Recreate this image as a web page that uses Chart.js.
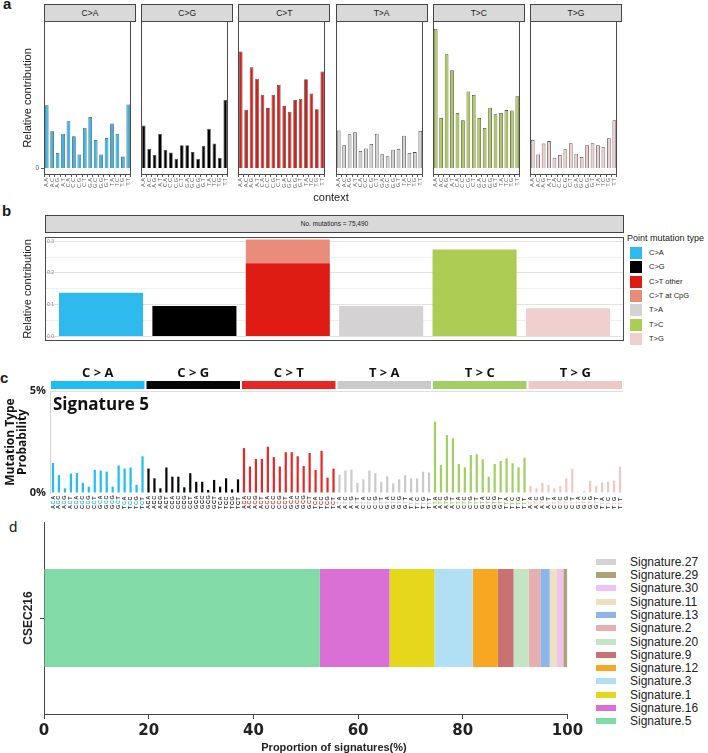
<!DOCTYPE html>
<html><head><meta charset="utf-8">
<script src="https://cdn.jsdelivr.net/npm/chart.js@4.4.1/dist/chart.umd.min.js"></script>
<style>
html,body{margin:0;padding:0;background:#fff;}
body{width:708px;height:753px;position:relative;overflow:hidden;font-family:'Liberation Sans',Arial,sans-serif;color:#1a1a1a;}
canvas{position:absolute;}
.t{position:absolute;white-space:nowrap;}
.strip{position:absolute;box-sizing:border-box;border:1px solid #444;background:#d9d9d9;text-align:center;color:#1a1a1a;}
</style></head><body>
<script>
// ---------------- DATA ----------------
const BASES = ['A','C','G','T'];
const MUT_TYPES = ['C>A','C>G','C>T','T>A','T>C','T>G'];
const CONTEXTS = ['A.A','A.C','A.G','A.T','C.A','C.C','C.G','C.T','G.A','G.C','G.G','G.T','T.A','T.C','T.G','T.T'];

// panel a: 96-type relative contribution, per substitution type
const profCA = [0.0154,0.0090,0.0037,0.0084,0.0115,0.0078,0.0033,0.0099,0.0125,0.0069,0.0033,0.0074,0.0109,0.0084,0.0028,0.0156];
const profCG = [0.0104,0.0047,0.0032,0.0084,0.0045,0.0038,0.0022,0.0056,0.0056,0.0039,0.0022,0.0054,0.0096,0.0060,0.0025,0.0167];
const profCT = [0.0286,0.0143,0.0247,0.0219,0.0180,0.0147,0.0180,0.0204,0.0152,0.0138,0.0167,0.0170,0.0218,0.0183,0.0144,0.0237];
const profTA = [0.0092,0.0056,0.0083,0.0088,0.0042,0.0048,0.0059,0.0084,0.0034,0.0029,0.0045,0.0047,0.0079,0.0037,0.0039,0.0091];
const profTC = [0.0341,0.0123,0.0279,0.0240,0.0135,0.0117,0.0188,0.0179,0.0123,0.0098,0.0148,0.0132,0.0135,0.0142,0.0141,0.0176];
const profTG = [0.0069,0.0033,0.0060,0.0066,0.0025,0.0032,0.0046,0.0061,0.0035,0.0027,0.0056,0.0061,0.0056,0.0051,0.0073,0.0117];
const PROFILES_A = [profCA, profCG, profCT, profTA, profTC, profTG];
const A_TICKS = [0];

// panel b: spectrum
const B_MAIN = [0.138, 0.096, 0.2305, 0.096, 0.274, 0.089];
const B_CPG  = [0, 0, 0.075, 0, 0, 0];
const B_LEGEND = ['C>A','C>G','C>T other','C>T at CpG','T>A','T>C','T>G'];
const B_STRIP = 'No. mutations = 75,490';
const B_TICKS = [0, 0.05, 0.1, 0.15, 0.2, 0.25, 0.3];

// panel c: Signature 5 (percent)
const sigCA = [1.47,0.88,0.23,0.95,0.98,0.50,0.31,1.13,1.10,1.05,0.31,1.35,1.20,1.25,0.40,1.80];
const sigCG = [1.20,0.72,0.23,1.25,0.80,0.80,0.28,0.97,0.55,0.55,0.15,0.64,0.31,0.72,0.18,0.67];
const sigCT = [2.20,1.30,1.67,1.67,2.27,1.76,1.30,2.00,2.00,1.80,1.32,1.96,1.13,2.07,0.75,1.19];
const sigTA = [0.90,1.10,1.15,0.50,0.67,1.10,0.97,0.55,0.82,0.47,0.67,0.87,0.72,0.72,1.04,1.00];
const sigTC = [3.50,1.37,2.84,2.68,1.42,1.26,1.86,1.90,1.65,0.80,1.42,1.57,1.70,1.46,1.26,1.73];
const sigTG = [0.34,0.23,0.50,0.39,0.23,0.34,0.72,1.17,0.06,0.10,0.60,0.34,0.52,0.55,0.60,1.30];
const SIG5 = [sigCA, sigCG, sigCT, sigTA, sigTC, sigTG];
const C_TICKS = [0, 5];

// panel d: signature proportions
const SAMPLE = ['CSEC216'];
const SIG_NAMES = ['Signature.5','Signature.16','Signature.1','Signature.3','Signature.12','Signature.9','Signature.20','Signature.2','Signature.13','Signature.11','Signature.30','Signature.29','Signature.27'];
const SIG_PROP  = [52.7, 13.3, 8.6, 7.3, 4.8, 3.0, 2.9, 2.2, 1.8, 1.4, 1.2, 0.7, 0.1];
const D_TICKS = [0, 20, 40, 60, 80, 100];

// ---------------- STYLE ----------------
const COLORS6 = ['#2EBAED','#000000','#DE1C14','#D4D2D2','#ADCC54','#F0D0CE'];
const B_COLORS = ['#2EBAED','#000000','#DE1C14','#E98C7B','#D4D2D2','#ADCC54','#F0D0CE'];
const SANGER = ['#1EBFF0','#050708','#E62725','#CBCACB','#A1CF64','#EDC8C5'];
const SIG_COLORS = {'Signature.5':'#80DBA6','Signature.16':'#DA70D6','Signature.1':'#E5D71C','Signature.3':'#B1E0F5','Signature.12':'#F8A723','Signature.9':'#C97272','Signature.20':'#C4E5C4','Signature.2':'#E7AFAF','Signature.13':'#8DB5EA','Signature.11':'#ECE1C0','Signature.30':'#EFC2EF','Signature.29':'#AEA277','Signature.27':'#D3D3D3'};

Chart.defaults.font.family = "'Liberation Sans', Arial, sans-serif";
Chart.defaults.animation = false;
Chart.defaults.responsive = false;
Chart.defaults.plugins.legend.display = false;
Chart.defaults.plugins.tooltip.enabled = false;

function addText(txt, css){ const d=document.createElement('div'); d.className='t'; d.textContent=txt; Object.assign(d.style, css); document.body.appendChild(d); return d; }
function addCanvas(l,t,w,h){ const c=document.createElement('canvas'); c.width=w; c.height=h; Object.assign(c.style,{left:l+'px',top:t+'px',width:w+'px',height:h+'px'}); document.body.appendChild(c); return c; }
const framePlugin = { id:'frame', afterDatasetsDraw(chart){ const {ctx, chartArea:c}=chart; ctx.save(); ctx.strokeStyle='#4a4a4a'; ctx.lineWidth=1; ctx.strokeRect(Math.round(c.left)+0.5, Math.round(c.top)+0.5, Math.round(c.width)-1, Math.round(c.height)-1); ctx.restore(); } };

// ---------------- PANEL LETTERS ----------------
addText('a',{left:'3px',top:'-5px',font:'bold 15px "Liberation Sans"'});
addText('b',{left:'2px',top:'202px',font:'bold 15px "Liberation Sans"'});
addText('c',{left:'0px',top:'369px',font:'bold 15px "Liberation Sans"'});
addText('d',{left:'9px',top:'518px',font:'15px "Liberation Sans"'});

// ---------------- PANEL A ----------------
const A_TOP = 21, A_BOTTOM = 175, A_W = 92, A_YW = 20, A_H = 171;
const yLabelPlugin = { id:'yLabel', afterDraw(chart){
  const {ctx, scales:{y}} = chart;
  ctx.save(); ctx.font = '6.5px "Liberation Sans"'; ctx.fillStyle='#555'; ctx.textAlign='right'; ctx.textBaseline='middle';
  ctx.strokeStyle='#555'; ctx.lineWidth=1;
  A_TICKS.forEach(v=>{ const py=y.getPixelForValue(v); ctx.fillText(String(v), y.right-5, py); ctx.beginPath(); ctx.moveTo(y.right-3, Math.round(py)+0.5); ctx.lineTo(y.right, Math.round(py)+0.5); ctx.stroke(); });
  ctx.restore();
}};
MUT_TYPES.forEach((mt, i) => {
  const left = 44 + i*97.2;
  const s = document.createElement('div'); s.className='strip'; s.textContent = mt;
  Object.assign(s.style,{left:left+'px',top:'4px',width:A_W+'px',height:'18px',font:'8.5px "Liberation Sans"',lineHeight:'16px'});
  document.body.appendChild(s);
  const cv = addCanvas(left - A_YW, A_TOP, A_W + A_YW, A_H);
  new Chart(cv, {
    type:'bar',
    data:{ labels: CONTEXTS, datasets:[{ data: PROFILES_A[i], backgroundColor: COLORS6[i], borderColor:'rgba(45,45,45,0.85)', borderWidth:0.8, barPercentage:0.68, categoryPercentage:1 }]},
    options:{
      layout:{padding:0},
      scales:{
        x:{ grid:{display:true, drawOnChartArea:false, tickLength:2, color:'#555'}, border:{display:false},
            ticks:{minRotation:90, maxRotation:90, autoSkip:false, font:{size:5.6}, color:'#6a6a6a', padding:1},
            afterFit:s=>{s.height=A_TOP+A_H-A_BOTTOM;} },
        y:{ min:-0.00172, max:0.03607,
            afterBuildTicks:s=>{s.ticks=A_TICKS.map(v=>({value:v}));},
            afterFit:s=>{s.width=A_YW;},
            grid:{display:false}, border:{display:false},
            ticks:{display:false} }
      }
    },
    plugins: i===0 ? [framePlugin, yLabelPlugin] : [framePlugin]
  });
});
addText('Relative contribution',{left:'27px',top:'98px',font:'11px "Liberation Sans"',transform:'translate(-50%,-50%) rotate(-90deg)'});
addText('context',{left:'331px',top:'197px',font:'11px "Liberation Sans"',transform:'translate(-50%,-50%)'});

// ---------------- PANEL B ----------------
(function(){
  const s = document.createElement('div'); s.className='strip'; s.textContent = B_STRIP;
  Object.assign(s.style,{left:'45px',top:'215px',width:'579px',height:'18px',font:'6.5px "Liberation Sans"',lineHeight:'16px'});
  document.body.appendChild(s);
  const cv = addCanvas(45, 232, 579, 114);
  const idx = MUT_TYPES.map((_,k)=>k);
  const mainColors = [B_COLORS[0],B_COLORS[1],B_COLORS[2],B_COLORS[4],B_COLORS[5],B_COLORS[6]];
  new Chart(cv, {
    type:'bar',
    data:{ datasets:[
      { label:'main', data: idx.map(k=>({x:k, y:B_MAIN[k]})), backgroundColor: mainColors, barPercentage:0.9, categoryPercentage:1 },
      { label:'CpG', data: idx.map(k=>({x:k, y:B_CPG[k]})), backgroundColor: B_COLORS[3], barPercentage:0.9, categoryPercentage:1 }
    ]},
    options:{
      layout:{padding:0},
      scales:{
        x:{ type:'linear', min:-0.6, max:5.6, offset:false, stacked:true, display:false, ticks:{stepSize:1, includeBounds:false} },
        y:{ min:-0.0144, max:0.3135, stacked:true,
            afterBuildTicks:s=>{s.ticks=B_TICKS.map(v=>({value:v}));},
            afterFit:s=>{s.width=0;},
            grid:{ drawTicks:false, color:c=> (Math.abs(Math.round(c.tick.value*10)-c.tick.value*10)<1e-6) ? '#e2e2e2' : '#f0f0f0' },
            border:{display:false},
            ticks:{ mirror:true, padding:2, font:{size:5}, color:'#8a8a8a',
                    callback:v=> (Math.abs(Math.round(v*10)-v*10)<1e-6) ? v.toFixed(1) : '' } }
      }
    },
    plugins:[framePlugin]
  });
  addText('Relative contribution',{left:'27px',top:'289px',font:'11px "Liberation Sans"',transform:'translate(-50%,-50%) rotate(-90deg)'});
  addText('Point mutation type',{left:'627px',top:'233px',font:'9px "Liberation Sans"'});
  B_LEGEND.forEach((lab,k)=>{
    const cy = 252.7 + k*14.4;
    const sq = document.createElement('div');
    Object.assign(sq.style,{position:'absolute',left:'630px',top:(cy-6)+'px',width:'12px',height:'12px',background:B_COLORS[k]});
    document.body.appendChild(sq);
    addText(lab,{left:'649px',top:(cy-5)+'px',font:'7.5px "Liberation Sans"',lineHeight:'10px'});
  });
})();

// ---------------- PANEL C ----------------
(function(){
  const labels = [], vals = [], cols = [];
  MUT_TYPES.forEach((mt,k)=>{ SIG5[k].forEach((v,j)=>{ labels.push(BASES[Math.floor(j/4)] + mt[0] + BASES[j%4]); vals.push(v); cols.push(SANGER[k]); }); });
  const decor = { id:'sigDecor', afterDraw(chart){
    const {ctx, chartArea:ca, scales:{x}} = chart;
    const step = x.getPixelForValue(1) - x.getPixelForValue(0);
    ctx.save();
    ctx.strokeStyle='#dedede'; ctx.lineWidth=1;
    ctx.beginPath(); ctx.moveTo(ca.left, Math.round(ca.top)+0.5); ctx.lineTo(ca.right, Math.round(ca.top)+0.5); ctx.stroke();
    MUT_TYPES.forEach((mt,k)=>{
      const x0 = x.getPixelForValue(16*k) - step/2 + 1;
      const x1 = x.getPixelForValue(16*k+15) + step/2 - 1;
      ctx.fillStyle = SANGER[k];
      ctx.fillRect(x0, ca.top-10, x1-x0, 8);
      ctx.fillStyle = '#111'; ctx.font = 'bold 13px "Open Sans"'; ctx.textAlign='center'; ctx.textBaseline='middle';
      ctx.fillText(mt.replace('>',' > '), (x0+x1)/2, ca.top-18);
    });
    ctx.font = 'bold 5.5px "Liberation Sans"'; ctx.textAlign='left'; ctx.textBaseline='middle';
    labels.forEach((lab,i)=>{
      const k = Math.floor(i/16);
      ctx.save(); ctx.translate(x.getPixelForValue(i), ca.bottom+16); ctx.rotate(-Math.PI/2);
      let off = 0;
      [[lab[0],'#333'],[lab[1],SANGER[k]],[lab[2],'#333']].forEach(([ch,col])=>{ ctx.fillStyle=col; ctx.fillText(ch, off, 0); off += ctx.measureText(ch).width + 0.6; });
      ctx.restore();
    });
    ctx.restore();
  }};
  const cv = addCanvas(0, 362, 630, 150);
  new Chart(cv, {
    type:'bar',
    data:{ labels, datasets:[{ data: vals, backgroundColor: cols, barPercentage:0.37, categoryPercentage:1 }]},
    options:{
      layout:{padding:{top:29, right:7, bottom:19, left:0}},
      scales:{
        x:{ display:false },
        y:{ min:0, max:5,
            afterBuildTicks:s=>{s.ticks=C_TICKS.map(v=>({value:v}));},
            afterFit:s=>{s.width=50;},
            grid:{display:true, drawOnChartArea:false, drawTicks:false},
            border:{display:true, color:'#d4d4d4', width:1},
            ticks:{ callback:v=>v+'%', font:{size:11, weight:'bold', family:'"Open Sans"'}, color:'#222', padding:4 } }
      }
    },
    plugins:[decor]
  });
  addText('Signature 5',{left:'53px',top:'393px',font:'bold 17px "Open Sans"',lineHeight:'22px',color:'#111'});
  addText('Mutation Type',{left:'9px',top:'442px',font:'bold 12px "Open Sans"',transform:'translate(-50%,-50%) rotate(-90deg)',color:'#111'});
  addText('Probability',{left:'21px',top:'442px',font:'bold 12px "Open Sans"',transform:'translate(-50%,-50%) rotate(-90deg)',color:'#111'});
})();

// ---------------- PANEL D ----------------
(function(){
  const cv = addCanvas(0, 515, 590, 238);
  new Chart(cv, {
    type:'bar',
    data:{ labels: SAMPLE, datasets: SIG_NAMES.map((n,k)=>({ label:n, data:[SIG_PROP[k]], backgroundColor: SIG_COLORS[n], barPercentage:0.51, categoryPercentage:1 })) },
    options:{
      indexAxis:'y',
      layout:{padding:{top:7, right:22.5, left:0, bottom:0}},
      scales:{
        x:{ min:0, max:100, stacked:true,
            afterBuildTicks:s=>{s.ticks=D_TICKS.map(v=>({value:v}));},
            afterFit:s=>{s.height=39;},
            grid:{display:true, drawOnChartArea:false, tickLength:5, color:'#444'},
            border:{color:'#444'},
            ticks:{ font:{size:15, weight:'bold', family:'"DejaVu Sans"'}, color:'#222', padding:3 } },
        y:{ stacked:true,
            afterFit:s=>{s.width=44;},
            grid:{display:true, drawOnChartArea:false, tickLength:4, offset:false, color:'#444'},
            border:{color:'#444'},
            ticks:{display:false},
            title:{display:true, text:SAMPLE[0], font:{size:12, weight:'bold'}, color:'#222', padding:{top:21, bottom:0}} }
      }
    }
  });
  addText('Proportion of signatures(%)',{left:'334px',top:'747px',font:'bold 11px "Liberation Sans"',transform:'translate(-50%,-50%)',color:'#222'});
  const rev = SIG_NAMES.slice().reverse();
  rev.forEach((n,k)=>{
    const cy = 561.7 + k*13.3;
    const sq = document.createElement('div');
    Object.assign(sq.style,{position:'absolute',left:'596px',top:(cy-3)+'px',width:'20px',height:'6px',background:SIG_COLORS[n]});
    document.body.appendChild(sq);
    addText(n,{left:'630px',top:(cy-7)+'px',font:'12px "Liberation Sans"',lineHeight:'14px',color:'#222'});
  });
})();
</script>
</body></html>
